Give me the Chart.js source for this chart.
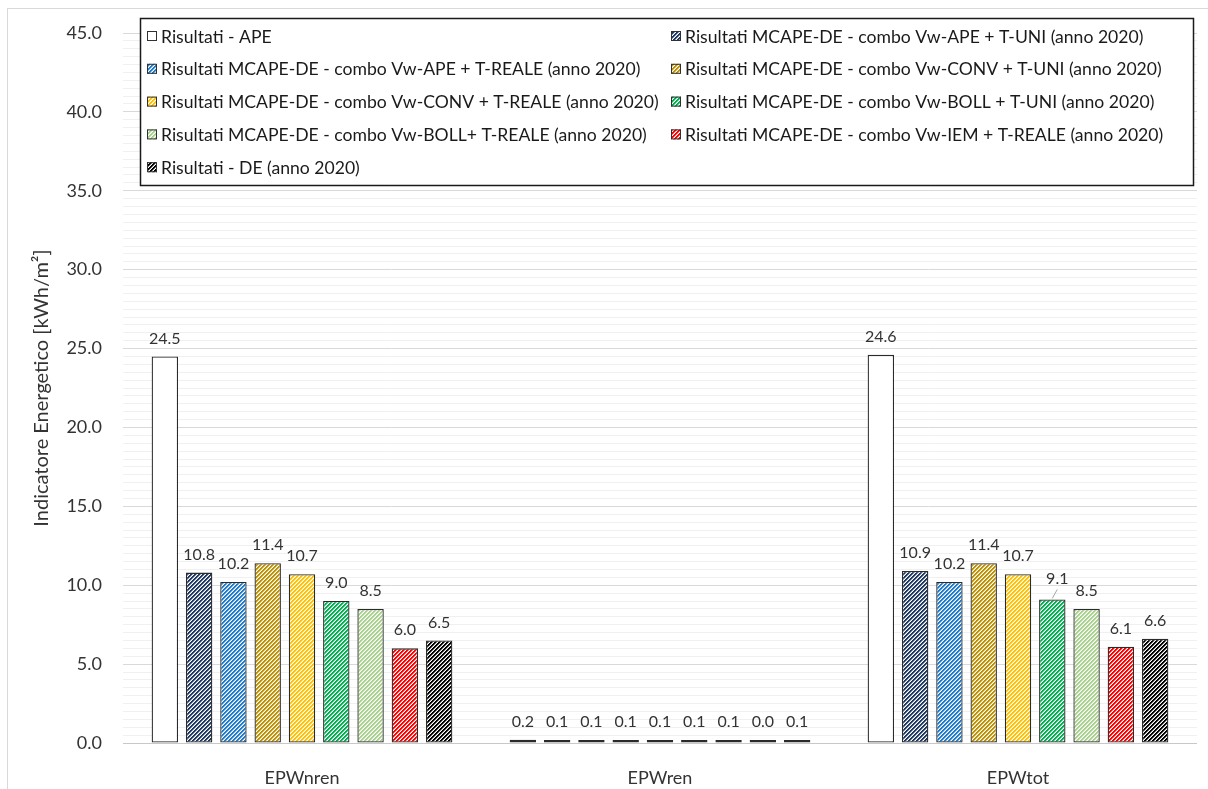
<!DOCTYPE html>
<html>
<head>
<meta charset="utf-8">
<script src="https://cdn.jsdelivr.net/npm/chart.js@4.4.1/dist/chart.umd.min.js"></script>
<style>
    html, body { margin: 0; padding: 0; background: #fff; }
    #wrap { position: relative; width: 1208px; height: 789px; }
</style>
</head>
<body>
<div id="wrap"><canvas id="chart"></canvas></div>
<script>
// categories and series
const categories = ["EPWnren", "EPWren", "EPWtot"];

const apeValues = [24.5, 0.2, 24.6];
const apeUniValues = [10.8, 0.1, 10.9];
const apeRealeValues = [10.2, 0.1, 10.2];
const convUniValues = [11.4, 0.1, 11.4];
const convRealeValues = [10.7, 0.1, 10.7];
const bollUniValues = [9.0, 0.1, 9.1];
const bollRealeValues = [8.5, 0.1, 8.5];
const iemRealeValues = [6.0, 0.04, 6.1];
const deValues = [6.5, 0.1, 6.6];

const seriesLabels = [
    "Risultati - APE",
    "Risultati MCAPE-DE - combo Vw-APE + T-UNI (anno 2020)",
    "Risultati MCAPE-DE - combo Vw-APE + T-REALE (anno 2020)",
    "Risultati MCAPE-DE - combo Vw-CONV + T-UNI (anno 2020)",
    "Risultati MCAPE-DE - combo Vw-CONV + T-REALE (anno 2020)",
    "Risultati MCAPE-DE - combo Vw-BOLL + T-UNI (anno 2020)",
    "Risultati MCAPE-DE - combo Vw-BOLL+ T-REALE (anno 2020)",
    "Risultati MCAPE-DE - combo Vw-IEM + T-REALE (anno 2020)",
    "Risultati - DE (anno 2020)",
];
const seriesValues = [apeValues, apeUniValues, apeRealeValues, convUniValues, convRealeValues,
    bollUniValues, bollRealeValues, iemRealeValues, deValues];

const yTicksMajor = [0, 5, 10, 15, 20, 25, 30, 35, 40, 45];

const colorMap = {
    white: null,
    navy: "#1f3864",
    blue: "#1f7ccc",
    gold: "#bf9000",
    yellow: "#ffc000",
    green: "#00b050",
    lightgreen: "#a9d18e",
    red: "#ff0000",
    black: "#000000",
};
const seriesColors = Object.keys(colorMap);

const FONT = "Lato";
const TEXT = "#333333";

const canvas = document.getElementById("chart");
const mainCtx = canvas.getContext("2d");

// diagonal "/" stripes, 4px period, one soft edge pixel
const makeHatch = (color) => {
    if (!color) return "#ffffff";
    const tile = document.createElement("canvas");
    tile.width = 8;
    tile.height = 8;
    const g = tile.getContext("2d");
    g.fillStyle = "#ffffff";
    g.fillRect(0, 0, 8, 8);
    for (let y = 0; y < 8; y++) {
        for (let x = 0; x < 8; x++) {
            const k = (x + y) % 4;
            if (k < 2) {
                g.globalAlpha = 1;
            } else if (k === 2) {
                g.globalAlpha = 0.45;
            } else {
                continue;
            }
            g.fillStyle = color;
            g.fillRect(x, y, 1, 1);
        }
    }
    return mainCtx.createPattern(tile, "repeat");
};

const fills = seriesColors.map((k) => makeHatch(colorMap[k]));

const datasets = seriesLabels.map((label, idx) => ({
    label,
    data: seriesValues[idx],
    backgroundColor: fills[idx],
    borderColor: "#2b2b2b",
    borderWidth: 1.3,
    borderSkipped: false,
    minBarLength: 3,
    categoryPercentage: 0.862,
    barPercentage: 0.77,
}));

// outer chart frame
const framePlugin = {
    id: "frame",
    beforeDraw(chart) {
        const c = chart.ctx;
        c.save();
        c.fillStyle = "#ffffff";
        c.fillRect(0, 0, chart.width, chart.height);
        c.strokeStyle = "#d9d9d9";
        c.lineWidth = 1;
        c.strokeRect(7.5, 8.5, 1300, 900);
        c.restore();
    },
};

// value labels above bars
const valueLabelPlugin = {
    id: "valueLabels",
    afterDatasetsDraw(chart) {
        const c = chart.ctx;
        c.save();
        c.font = `16px ${FONT}`;
        c.fillStyle = TEXT;
        c.textAlign = "center";
        c.textBaseline = "middle";
        chart.data.datasets.forEach((ds, di) => {
            const meta = chart.getDatasetMeta(di);
            meta.data.forEach((bar, i) => {
                const txt = ds.data[i].toFixed(1);
                if (di === 5 && i === 2) {
                    // leader line for the shifted label
                    c.strokeStyle = "#a6a6a6";
                    c.lineWidth = 1;
                    c.beginPath();
                    c.moveTo(bar.x, bar.y - 1);
                    c.lineTo(bar.x + 5, bar.y - 10);
                    c.stroke();
                    c.fillText(txt, bar.x + 5, bar.y - 21);
                } else {
                    c.fillText(txt, bar.x, Math.min(bar.y, 740) - 18);
                }
            });
        });
        c.restore();
    },
};

// two-column boxed legend drawn over the plot area
const boxLegendPlugin = {
    id: "boxLegend",
    afterDraw(chart) {
        const c = chart.ctx;
        const box = { x: 140, y: 18, w: 1053, h: 167 };
        const cols = [147, 671];
        const rowY0 = 36;
        const rowStep = 32.8;
        c.save();
        c.fillStyle = "#ffffff";
        c.fillRect(box.x, box.y, box.w, box.h);
        c.strokeStyle = "#1a1a1a";
        c.lineWidth = 1.5;
        c.strokeRect(box.x + 0.5, box.y + 0.5, box.w, box.h);
        c.font = `17.6px ${FONT}`;
        c.textBaseline = "middle";
        c.textAlign = "left";
        chart.data.datasets.forEach((ds, idx) => {
            const col = idx % 2;
            const row = Math.floor(idx / 2);
            const x = cols[col];
            const y = rowY0 + row * rowStep;
            c.fillStyle = ds.backgroundColor;
            c.fillRect(x, y - 5, 10, 10);
            c.strokeStyle = "#303030";
            c.lineWidth = 1;
            c.strokeRect(x + 0.5, y - 4.5, 9, 9);
            c.fillStyle = "#1a1a1a";
            c.fillText(ds.label, x + 14, y + 1);
        });
        c.restore();
    },
};

Chart.defaults.font.family = FONT;
Chart.defaults.color = TEXT;

new Chart(canvas, {
    type: "bar",
    data: { labels: categories, datasets },
    options: {
        responsive: true,
        maintainAspectRatio: false,
        animation: false,
        devicePixelRatio: 1,
        layout: { padding: { top: 33, right: 11, bottom: 0, left: 0 } },
        plugins: {
            legend: { display: false },
            tooltip: { enabled: false },
        },
        scales: {
            x: {
                grid: { display: false, drawTicks: false },
                border: { display: false },
                ticks: { font: { size: 18 }, color: TEXT, padding: 24 },
                afterFit: (scale) => { scale.height = 46; },
            },
            y: {
                min: 0,
                max: 45,
                border: { display: false },
                grid: {
                    drawTicks: false,
                    color: (ctx) => {
                        const v = ctx.tick.value;
                        if (v === 0) return "#c8c8c8";
                        return yTicksMajor.includes(v) ? "#d9d9d9" : "#f0f0f0";
                    },
                },
                ticks: {
                    stepSize: 0.5,
                    autoSkip: false,
                    padding: 21,
                    font: { size: 18 },
                    color: TEXT,
                    callback: (v) => (yTicksMajor.includes(v) ? v.toFixed(1) : ""),
                },
                title: {
                    display: true,
                    text: "Indicatore Energetico [kWh/m²]",
                    font: { size: 20 },
                    color: TEXT,
                    padding: { top: 30, bottom: 0 },
                },
                afterFit: (scale) => { scale.width = 123; },
            },
        },
    },
    plugins: [framePlugin, valueLabelPlugin, boxLegendPlugin],
});
</script>
</body>
</html>
